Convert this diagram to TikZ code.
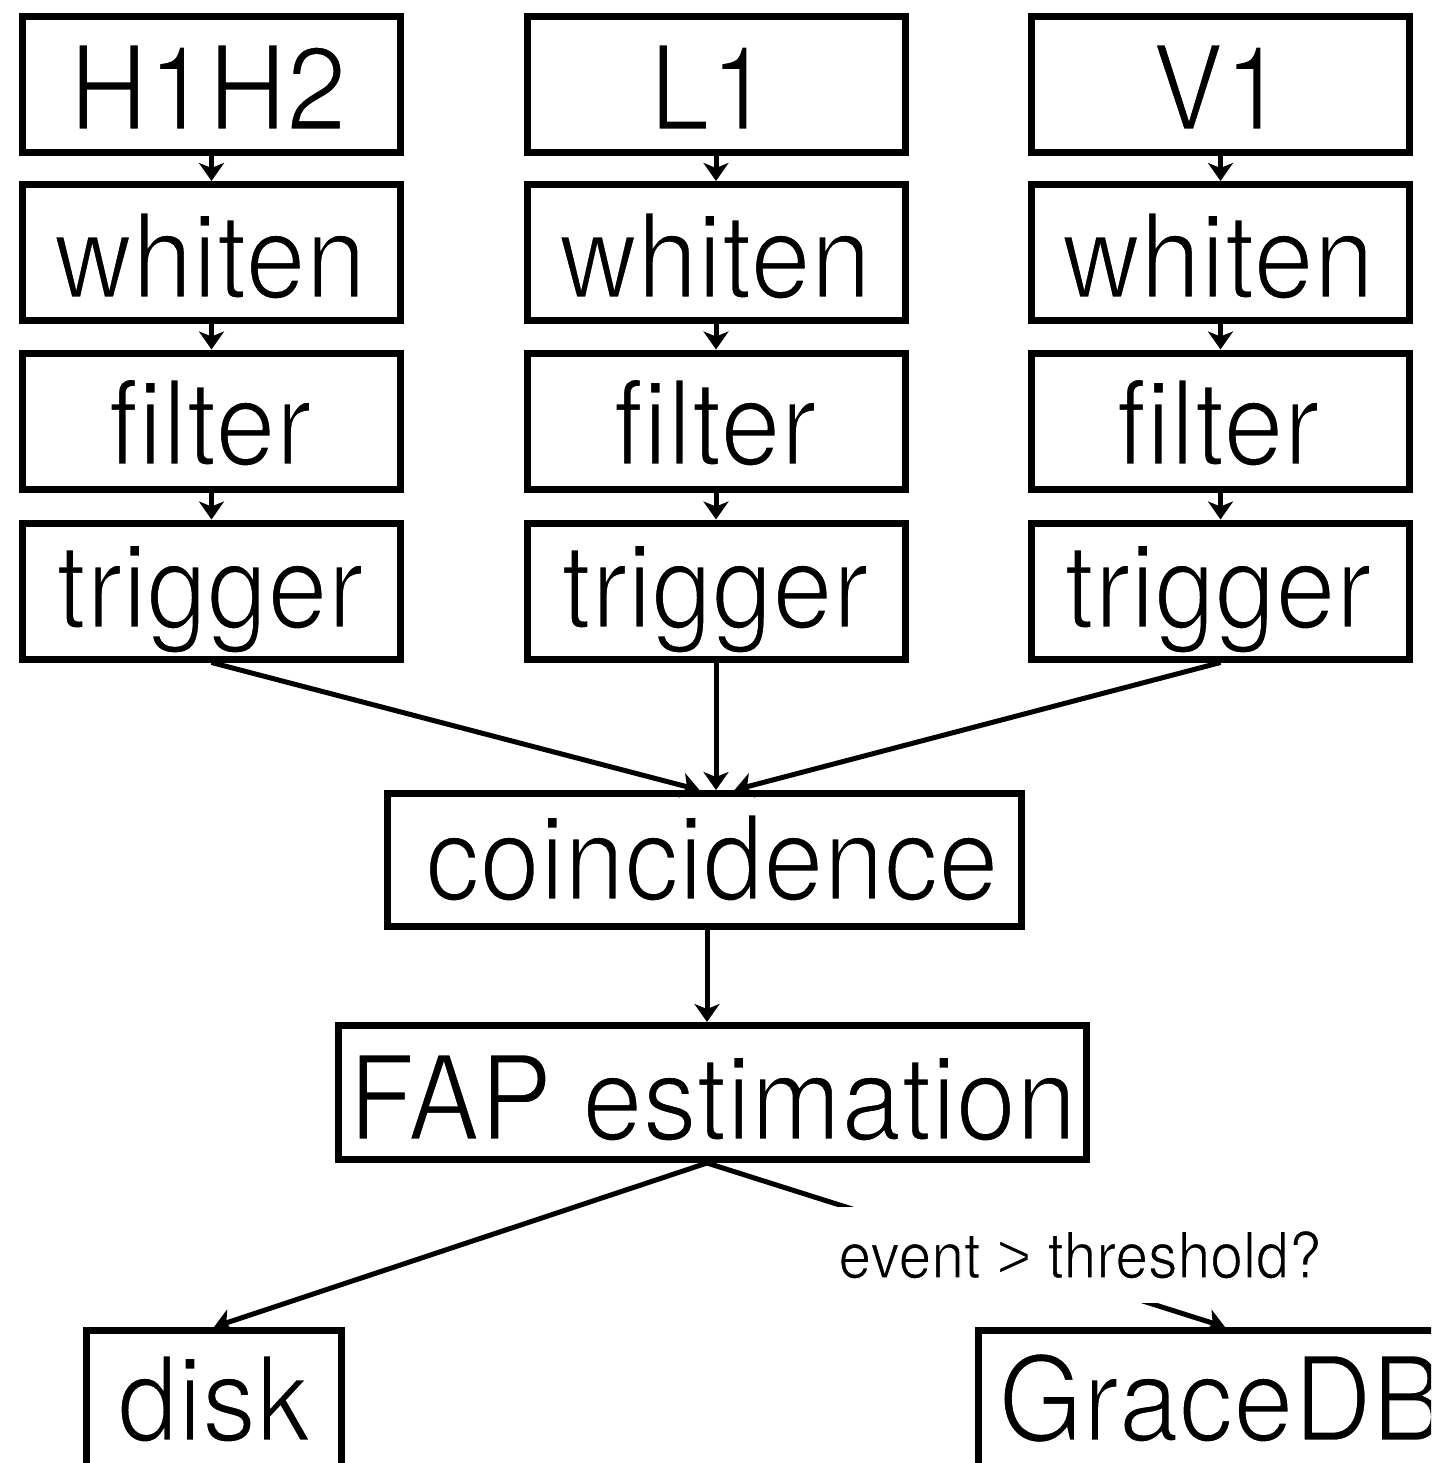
\documentclass[tikz,border=0pt]{standalone}
\usepackage{fontspec}
\setmainfont{TeX Gyre Heros}[FakeStretch=0.92]
\newfontfamily\gtfont{Liberation Sans}[FakeStretch=0.92]
\usetikzlibrary{arrows.meta,calc}
% thin the glyphs: fill, then stroke the outlines in white
\newcommand\lightstart[1]{\special{pdf:literal direct 2 Tr 1 1 1 RG #1 w}}
\newcommand\lightstop{\special{pdf:literal direct 0 Tr 0 0 0 RG}}
\begin{document}
\begin{tikzpicture}[x=0.5pt,y=-0.5pt,
  box/.style={draw, line width=3.5pt, inner sep=0pt},
  stage/.style={box, minimum width=189pt, minimum height=68pt},
  big/.style={font=\fontsize{59pt}{60pt}\selectfont, inner sep=0pt, anchor=base,
    execute at begin node=\lightstart{1.3}, execute at end node=\lightstop},
  small/.style={font=\fontsize{32pt}{34pt}\selectfont, anchor=base,
    execute at begin node=\lightstart{0.55}, execute at end node=\lightstop},
  flow/.style={line width=2.5pt, -{Stealth[length=9pt,width=12.5pt,inset=2.5pt]}}
]
\useasboundingbox (0,0) rectangle (1431,1463);
\clip (0,0) rectangle (1431,1463);

% detector pipelines: three columns of four stages
\node[stage] (src1) at (211.5,84.5) {};
\node[stage] (wh1)  at (211.5,252.5) {};
\node[stage] (fi1)  at (211.5,421) {};
\node[stage] (tr1)  at (211.5,591) {};
\node[stage] (src2) at (716,84.5) {};
\node[stage] (wh2)  at (716,252.5) {};
\node[stage] (fi2)  at (716,421) {};
\node[stage] (tr2)  at (716,591) {};
\node[stage] (src3) at (1220.5,84.5) {};
\node[stage] (wh3)  at (1220.5,252.5) {};
\node[stage] (fi3)  at (1220.5,421) {};
\node[stage] (tr3)  at (1220.5,591) {};

\node[big] (src1t) at (208,130) {H1H2};
\node[big] (wh1t)  at (210,298) {whiten};
\node[big] (fi1t)  at (210,465) {filter};
\node[big] (tr1t)  at (210,628) {trigger};
\node[big] (src2t) at (710,130) {L1};
\node[big] (wh2t)  at (715,298) {whiten};
\node[big] (fi2t)  at (715,465) {filter};
\node[big] (tr2t)  at (715,628) {trigger};
\node[big] (src3t) at (1218,130) {V1};
\node[big] (wh3t)  at (1218,298) {whiten};
\node[big] (fi3t)  at (1218,465) {filter};
\node[big] (tr3t)  at (1218,628) {trigger};

% downstream stages
\node[box, minimum width=317pt, minimum height=66.5pt] (coin) at (704.5,860) {};
\node[big] (coint) at (712,900) {coincidence};
\node[box, minimum width=374pt, minimum height=67pt] (fap) at (712.5,1092.5) {};
\node[big] (fapt) at (712.5,1140) {FAP estimation};
\node[box, minimum width=127.5pt, minimum height=68pt] (disk) at (214,1398.5) {};
\node[big] (diskt) at (214,1441) {disk};
\node[box, minimum width=241.5pt, minimum height=68pt] (gdb) at (1220,1398.5) {};
\node[big, anchor=base west] (gdbt) at (998,1441) {GraceDB};

% connectors within each column
\foreach \c in {1,2,3}{
  \draw[flow] (src\c.south) -- (wh\c.north);
  \draw[flow] (wh\c.south) -- (fi\c.north);
  \draw[flow] (fi\c.south) -- (tr\c.north);
}

% triggers into coincidence
\draw[flow] (tr1.south) -- ($(coin.north)+(-5,0)$);
\draw[flow] (tr2.south) -- ($(coin.north)+(11.5,0)$);
\draw[flow] (tr3.south) -- ($(coin.north)+(30,0)$);

\draw[flow] ($(coin.south)+(2.5,0)$) -- ($(fap.north)+(-5.5,0)$);
\draw[flow] ($(fap.south)+(-5.5,0)$) -- (disk.north);
\draw[flow] ($(fap.south)+(-5.5,0)$) -- ($(gdb.north)+(5,0)$);

% condition label breaking the GraceDB connector
\node[small, fill=white, inner xsep=4pt, inner ysep=12pt] (thr) at (1080,1278)
  {event {\gtfont >} threshold?};
\end{tikzpicture}
\end{document}
